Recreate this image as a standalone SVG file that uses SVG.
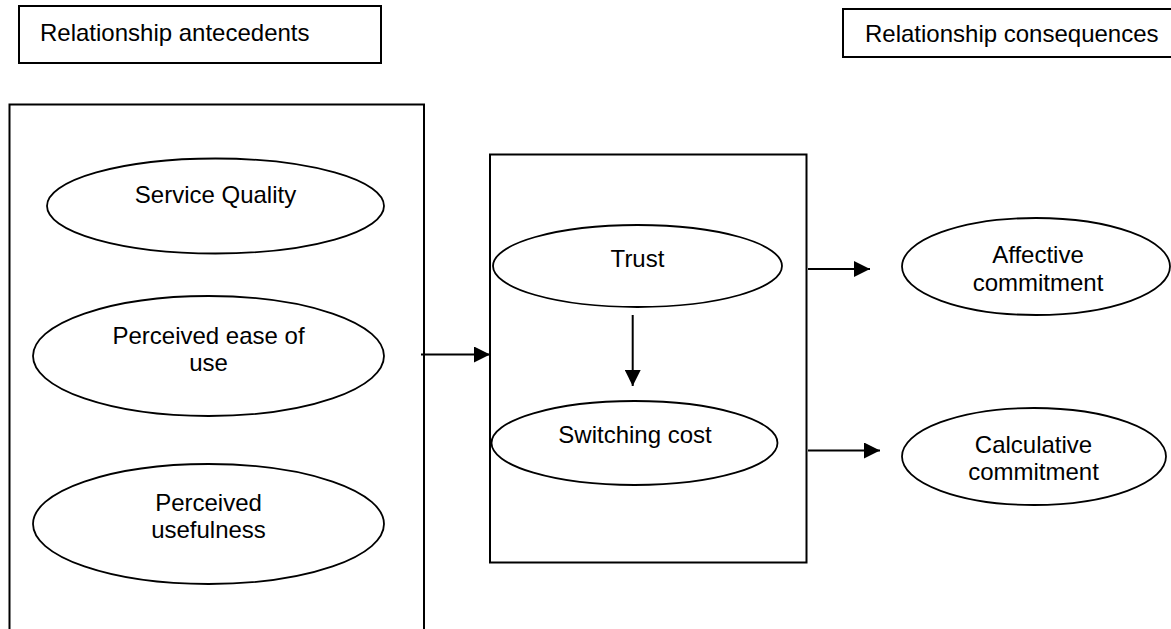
<svg xmlns="http://www.w3.org/2000/svg" width="1171" height="629" viewBox="0 0 1171 629">
<style>
.box{fill:#fff;stroke:#000;stroke-width:2}
.ell{fill:#fff;stroke:#000;stroke-width:1.8}
.t{font-family:"Liberation Sans",Arial,sans-serif;font-size:24px;fill:#000}
.c{text-anchor:middle}
.ln{stroke:#000;stroke-width:2;fill:none}
</style>
<defs>
<marker id="ah" viewBox="0 0 16 16" refX="16" refY="8" markerWidth="16" markerHeight="16" markerUnits="userSpaceOnUse" orient="auto">
<path d="M0,0 L16,8 L0,16 Z" fill="#000"/>
</marker>
</defs>
<g id="label-antecedents">
<rect class="box" x="19" y="6" width="362" height="57"/>
<text class="t" x="40" y="41">Relationship antecedents</text>
</g>
<g id="label-consequences">
<rect class="box" x="843" y="9" width="340" height="48"/>
<text class="t" x="865" y="42">Relationship consequences</text>
</g>
<g id="antecedents-box">
<rect class="box" x="9.5" y="104.5" width="414.5" height="540"/>
</g>
<g id="service-quality">
<ellipse class="ell" cx="215.5" cy="206" rx="168.5" ry="47.5"/>
<text class="t c" x="215.5" y="203">Service Quality</text>
</g>
<g id="ease-of-use">
<ellipse class="ell" cx="208.5" cy="356" rx="175.5" ry="60"/>
<text class="t c" x="208.5" y="344">Perceived ease of</text>
<text class="t c" x="208.5" y="371">use</text>
</g>
<g id="usefulness">
<ellipse class="ell" cx="208.5" cy="524" rx="175.5" ry="60"/>
<text class="t c" x="208.5" y="511">Perceived</text>
<text class="t c" x="208.5" y="538">usefulness</text>
</g>
<g id="mediators-box">
<rect class="box" x="490" y="154.5" width="316.5" height="408"/>
</g>
<g id="trust">
<ellipse class="ell" cx="637.5" cy="266" rx="144.5" ry="41"/>
<text class="t c" x="637.5" y="267">Trust</text>
</g>
<g id="switching-cost">
<ellipse class="ell" cx="634.5" cy="443" rx="143" ry="42"/>
<text class="t c" x="635" y="443">Switching cost</text>
</g>
<g id="affective-commitment">
<ellipse class="ell" cx="1036" cy="266.5" rx="134" ry="48.5"/>
<text class="t c" x="1038" y="263">Affective</text>
<text class="t c" x="1038" y="291">commitment</text>
</g>
<g id="calculative-commitment">
<ellipse class="ell" cx="1034" cy="456.5" rx="132" ry="48.5"/>
<text class="t c" x="1033.5" y="453">Calculative</text>
<text class="t c" x="1033.5" y="480">commitment</text>
</g>
<g id="connectors">
<line class="ln" x1="421" y1="354.5" x2="490" y2="354.5" marker-end="url(#ah)"/>
<line class="ln" x1="632.7" y1="315" x2="632.7" y2="386" marker-end="url(#ah)"/>
<line class="ln" x1="808" y1="269" x2="870" y2="269" marker-end="url(#ah)"/>
<line class="ln" x1="808" y1="450.5" x2="880" y2="450.5" marker-end="url(#ah)"/>
</g>
</svg>
